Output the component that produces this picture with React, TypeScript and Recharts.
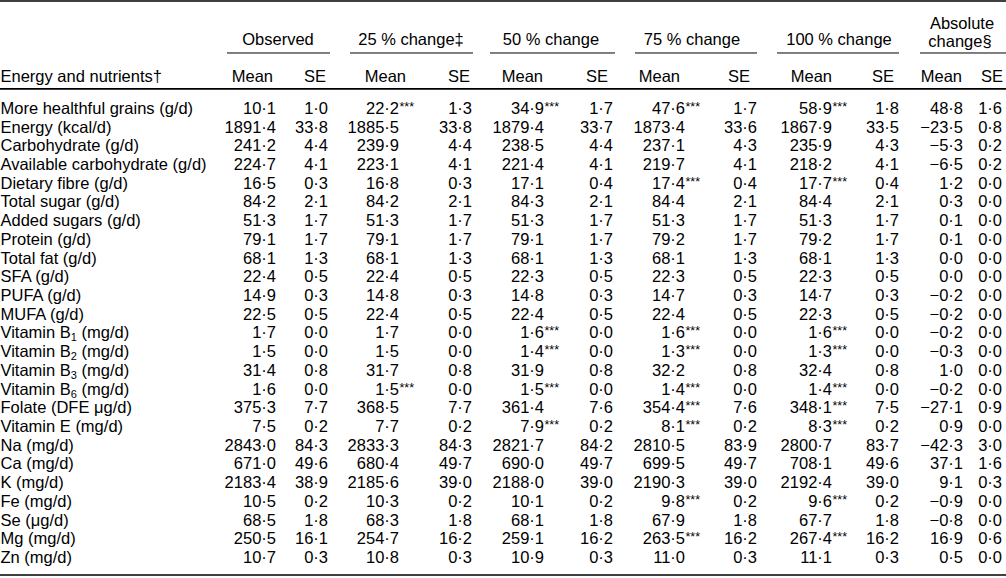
import React from 'react';
import { ScatterChart, Scatter, XAxis, YAxis, ReferenceLine } from 'recharts';

// ---- table data ----
const nutrients = [
    'More healthful grains (g/d)', 'Energy (kcal/d)', 'Carbohydrate (g/d)', 'Available carbohydrate (g/d)',
    'Dietary fibre (g/d)', 'Total sugar (g/d)', 'Added sugars (g/d)', 'Protein (g/d)', 'Total fat (g/d)',
    'SFA (g/d)', 'PUFA (g/d)', 'MUFA (g/d)', 'Vitamin B₁ (mg/d)', 'Vitamin B₂ (mg/d)', 'Vitamin B₃ (mg/d)',
    'Vitamin B₆ (mg/d)', 'Folate (DFE μg/d)', 'Vitamin E (mg/d)', 'Na (mg/d)', 'Ca (mg/d)', 'K (mg/d)',
    'Fe (mg/d)', 'Se (μg/d)', 'Mg (mg/d)', 'Zn (mg/d)',
];

const observedMean = [10.1, 1891.4, 241.2, 224.7, 16.5, 84.2, 51.3, 79.1, 68.1, 22.4, 14.9, 22.5, 1.7, 1.5, 31.4, 1.6, 375.3, 7.5, 2843.0, 671.0, 2183.4, 10.5, 68.5, 250.5, 10.7];
const observedSE = [1.0, 33.8, 4.4, 4.1, 0.3, 2.1, 1.7, 1.7, 1.3, 0.5, 0.3, 0.5, 0.0, 0.0, 0.8, 0.0, 7.7, 0.2, 84.3, 49.6, 38.9, 0.2, 1.8, 16.1, 0.3];
const change25Mean = [22.2, 1885.5, 239.9, 223.1, 16.8, 84.2, 51.3, 79.1, 68.1, 22.4, 14.8, 22.4, 1.7, 1.5, 31.7, 1.5, 368.5, 7.7, 2833.3, 680.4, 2185.6, 10.3, 68.3, 254.7, 10.8];
const change25SE = [1.3, 33.8, 4.4, 4.1, 0.3, 2.1, 1.7, 1.7, 1.3, 0.5, 0.3, 0.5, 0.0, 0.0, 0.8, 0.0, 7.7, 0.2, 84.3, 49.7, 39.0, 0.2, 1.8, 16.2, 0.3];
const change50Mean = [34.9, 1879.4, 238.5, 221.4, 17.1, 84.3, 51.3, 79.1, 68.1, 22.3, 14.8, 22.4, 1.6, 1.4, 31.9, 1.5, 361.4, 7.9, 2821.7, 690.0, 2188.0, 10.1, 68.1, 259.1, 10.9];
const change50SE = [1.7, 33.7, 4.4, 4.1, 0.4, 2.1, 1.7, 1.7, 1.3, 0.5, 0.3, 0.5, 0.0, 0.0, 0.8, 0.0, 7.6, 0.2, 84.2, 49.7, 39.0, 0.2, 1.8, 16.2, 0.3];
const change75Mean = [47.6, 1873.4, 237.1, 219.7, 17.4, 84.4, 51.3, 79.2, 68.1, 22.3, 14.7, 22.4, 1.6, 1.3, 32.2, 1.4, 354.4, 8.1, 2810.5, 699.5, 2190.3, 9.8, 67.9, 263.5, 11.0];
const change75SE = [1.7, 33.6, 4.3, 4.1, 0.4, 2.1, 1.7, 1.7, 1.3, 0.5, 0.3, 0.5, 0.0, 0.0, 0.8, 0.0, 7.6, 0.2, 83.9, 49.7, 39.0, 0.2, 1.8, 16.2, 0.3];
const change100Mean = [58.9, 1867.9, 235.9, 218.2, 17.7, 84.4, 51.3, 79.2, 68.1, 22.3, 14.7, 22.3, 1.6, 1.3, 32.4, 1.4, 348.1, 8.3, 2800.7, 708.1, 2192.4, 9.6, 67.7, 267.4, 11.1];
const change100SE = [1.8, 33.5, 4.3, 4.1, 0.4, 2.1, 1.7, 1.7, 1.3, 0.5, 0.3, 0.5, 0.0, 0.0, 0.8, 0.0, 7.5, 0.2, 83.7, 49.6, 39.0, 0.2, 1.8, 16.2, 0.3];
const absoluteMean = [48.8, -23.5, -5.3, -6.5, 1.2, 0.3, 0.1, 0.1, 0.0, 0.0, -0.2, -0.2, -0.2, -0.3, 1.0, -0.2, -27.1, 0.9, -42.3, 37.1, 9.1, -0.9, -0.8, 16.9, 0.5];
const absoluteSE = [1.6, 0.8, 0.2, 0.2, 0.0, 0.0, 0.0, 0.0, 0.0, 0.0, 0.0, 0.0, 0.0, 0.0, 0.0, 0.0, 0.9, 0.0, 3.0, 1.6, 0.3, 0.0, 0.0, 0.6, 0.0];

// rows flagged *** (row indices)
const sig25 = [0, 15];
const sig50 = [0, 12, 13, 15, 17];
const sig75 = [0, 4, 12, 13, 15, 16, 17, 21, 23];
const sig100 = [0, 4, 12, 13, 15, 16, 17, 21, 23];

const groupHeaders = ['Observed', '25 % change‡', '50 % change', '75 % change', '100 % change'];
const subHeaders = ['Mean', 'SE'];

// ---- layout ----
const W = 1006;
const H = 578;
const FONT = '"Liberation Sans", Arial, Helvetica, sans-serif';
const FS = 16.5;
const BASE = FS * 0.36; // centre -> baseline
// y axis is in row units (row 0 = first nutrient); domain covers the whole picture
const Y_DOMAIN: [number, number] = [-5.772, 25.12];
const TOP_RULE = -5.72;
const GROUP_RULE = -2.94;
const HEAD_RULE = -1.02;
const BOTTOM_RULE = 24.96;
const GROUP_ROW = -3.69;
const SUB_ROW = -1.71;

// right edges of each numeric column (Observed, 25, 50, 75, 100, Absolute × Mean/SE)
const colX = [276, 328, 399, 472, 544, 613, 685, 757, 832, 899, 963, 1002];
const groupCenters = [278, 411, 551, 692, 839];
const groupSpans = [[227, 330], [350, 473], [490, 615], [635, 757], [777, 899], [920, 1006]];
const subX = [273, 326, 406, 470, 543, 608, 680, 750, 832, 894, 962, 1003];

const columns = [
    { values: observedMean, sig: [] as number[] },
    { values: observedSE, sig: [] },
    { values: change25Mean, sig: sig25 },
    { values: change25SE, sig: [] },
    { values: change50Mean, sig: sig50 },
    { values: change50SE, sig: [] },
    { values: change75Mean, sig: sig75 },
    { values: change75SE, sig: [] },
    { values: change100Mean, sig: sig100 },
    { values: change100SE, sig: [] },
    { values: absoluteMean, sig: [] },
    { values: absoluteSE, sig: [] },
];

const fmt = (v: number) => (v < 0 ? '\u2212' : '') + Math.abs(v).toFixed(1).replace('.', '\u00b7');

const SUBS: Record<string, string> = { '₁': '1', '₂': '2', '₃': '3', '₆': '6' };

const textStyle = { fontFamily: FONT, fontSize: FS, fill: '#000' };

const LabelShape = (props: any) => {
    const { cx, cy, payload } = props;
    const parts = String(payload.text).split(/([₁₂₃₆])/).filter((p) => p !== '');
    let shifted = false;
    return (
        <text x={cx} y={cy + BASE} textAnchor={payload.anchor || 'start'} style={textStyle}>
            {parts.map((p, i) => {
                if (SUBS[p]) {
                    shifted = true;
                    return <tspan key={i} fontSize={11} dy={3}>{SUBS[p]}</tspan>;
                }
                const dy = shifted ? -3 : 0;
                shifted = false;
                return <tspan key={i} dy={dy}>{p}</tspan>;
            })}
        </text>
    );
};

const CellShape = (props: any) => {
    const { cx, cy, payload } = props;
    return (
        <g>
            <text x={cx} y={cy + BASE} textAnchor="end" style={textStyle}>{payload.text}</text>
            {payload.star && (
                <text x={cx + 0.5} y={cy + BASE - 3} textAnchor="start" style={{ ...textStyle, fontSize: 12.5 }}>***</text>
            )}
        </g>
    );
};

const labelData = nutrients.map((n, i) => ({ x: 0.5, y: i, text: n }));

const headerData = [
    ...groupHeaders.map((g, i) => ({ x: groupCenters[i], y: GROUP_ROW, text: g, anchor: 'middle' })),
    { x: 962, y: -4.55, text: 'Absolute', anchor: 'middle' },
    { x: 960, y: -3.58, text: 'change§', anchor: 'middle' },
    { x: 0.5, y: SUB_ROW, text: 'Energy and nutrients†', anchor: 'start' },
    ...subX.map((x, i) => ({ x, y: SUB_ROW, text: subHeaders[i % 2], anchor: 'end' })),
];

export default function App() {
    return (
        <div style={{ width: W, height: H, background: '#fff' }}>
            <style>{'body{margin:0;background:#fff}'}</style>
            <ScatterChart width={W} height={H} margin={{ top: 0, right: 0, bottom: 0, left: 0 }}>
                <XAxis type="number" dataKey="x" domain={[0, W]} allowDataOverflow hide />
                <YAxis type="number" dataKey="y" domain={Y_DOMAIN} allowDataOverflow reversed hide />
                <ReferenceLine y={TOP_RULE} stroke="#000" strokeWidth={1.6} />
                <ReferenceLine y={HEAD_RULE} stroke="#000" strokeWidth={1.6} />
                <ReferenceLine y={BOTTOM_RULE} stroke="#000" strokeWidth={1.6} />
                {groupSpans.map(([a, b], i) => (
                    <ReferenceLine
                        key={`g-${i}`}
                        segment={[{ x: a, y: GROUP_RULE }, { x: b, y: GROUP_RULE }]}
                        stroke="#000"
                        strokeWidth={1}
                    />
                ))}
                <Scatter data={headerData} shape={LabelShape} isAnimationActive={false} />
                <Scatter data={labelData} shape={LabelShape} isAnimationActive={false} />
                {columns.map((col, ci) => (
                    <Scatter
                        key={`c-${ci}`}
                        data={col.values.map((v, i) => ({ x: colX[ci], y: i, text: fmt(v), star: col.sig.includes(i) }))}
                        shape={CellShape}
                        isAnimationActive={false}
                    />
                ))}
            </ScatterChart>
        </div>
    );
}
